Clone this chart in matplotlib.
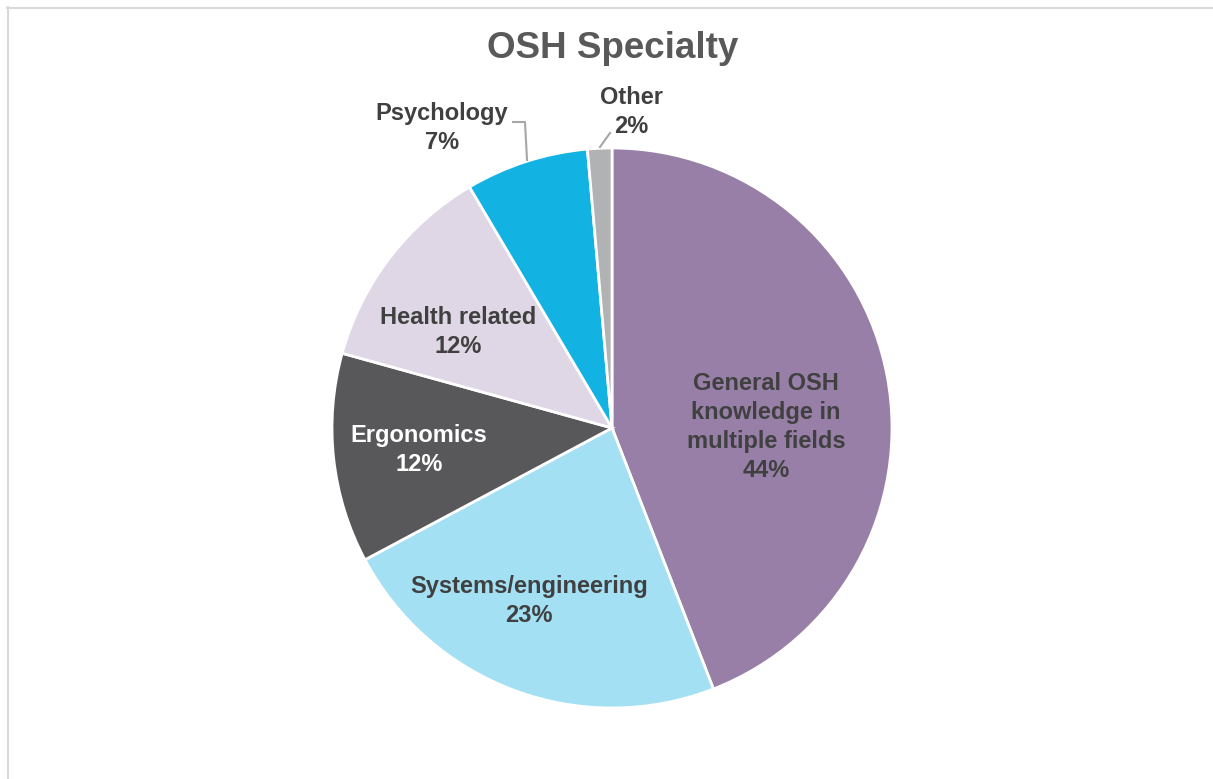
import matplotlib.pyplot as plt
from matplotlib.lines import Line2D

plt.rcParams['font.family'] = ['Liberation Sans', 'DejaVu Sans']

# data
categories = ['General OSH\nknowledge in\nmultiple fields', 'Systems/engineering',
              'Ergonomics', 'Health related', 'Psychology', 'Other']
values = [44.1, 23.1, 12.1, 12.2, 7.1, 1.4]
colors = ['#987FA7', '#A3E0F4', '#58585A', '#DFD7E5', '#12B2E3', '#B1B2B4']
text_colors = ['#404040', '#404040', '#FFFFFF', '#404040', '#404040', '#404040']
pct_labels = ['44%', '23%', '12%', '12%', '7%', '2%']

# label centres in pie units (radius = 1)
label_pos = [(0.55, 0.004), (-0.296, -0.618), (-0.689, -0.079),
             (-0.55, 0.343), (-0.607, 1.071), (0.068, 1.129)]

W, H = 1213, 779
fig = plt.figure(figsize=(W / 100, H / 100), dpi=100)

# pie centre (612, 428) px, radius 280 px
cx, cy, r = 612, 428, 280
ax = fig.add_axes([(cx - r) / W, (H - cy - r) / H, 2 * r / W, 2 * r / H])
ax.pie(values, colors=colors, startangle=90, counterclock=False, radius=1,
       wedgeprops=dict(edgecolor='white', linewidth=2))
ax.set_xlim(-1, 1)
ax.set_ylim(-1, 1)
ax.set_aspect('equal')
ax.axis('off')

for name, pct, (x, y), tc in zip(categories, pct_labels, label_pos, text_colors):
    ax.text(x, y, f'{name}\n{pct}', ha='center', va='center', fontsize=17,
            fontweight='bold', color=tc, linespacing=1.32, clip_on=False)

# leader lines for the small slices (pie units)
def px(p):
    return ((p[0] - cx) / r, (cy - p[1]) / r)

lead_psy = [px((513, 122)), px((525, 122)), px((527, 160))]
lead_oth = [px((600, 147)), px((610, 133))]
for pts in (lead_psy, lead_oth):
    ax.plot([p[0] for p in pts], [p[1] for p in pts], color='#A6A6A6',
            linewidth=1.5, clip_on=False)

fig.text(613 / W, 1 - 49 / H, 'OSH Specialty', ha='center', va='center',
         fontsize=26.5, fontweight='bold', color='#595959')

# chart area border (top and left visible)
fig.add_artist(Line2D([7 / W, 1], [1 - 7.5 / H, 1 - 7.5 / H], color='#D9D9D9',
                      linewidth=1.5, transform=fig.transFigure))
fig.add_artist(Line2D([7.5 / W, 7.5 / W], [0, 1 - 7 / H], color='#D9D9D9',
                      linewidth=1.5, transform=fig.transFigure))

fig.savefig('out.png', dpi=100)
